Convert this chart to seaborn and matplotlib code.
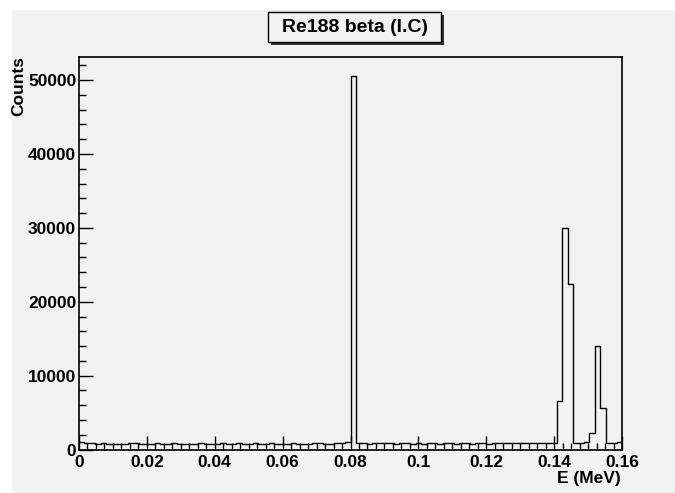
import numpy as np
import pandas as pd
import seaborn as sb
import matplotlib.pyplot as plt
from matplotlib.patches import Rectangle
from matplotlib.ticker import MultipleLocator

# histogram contents, 100 bins from 0 to 0.16 MeV
n_bins = 100
e_min, e_max = 0.0, 0.16
counts = [
    950, 850, 830, 800, 820, 780, 810, 790, 800, 830,
    820, 800, 790, 810, 830, 790, 800, 820, 800, 810,
    790, 800, 820, 780, 810, 800, 830, 800, 790, 820,
    800, 810, 820, 790, 800, 830, 810, 790, 800, 820,
    810, 800, 790, 830, 820, 800, 810, 900, 930, 950,
    50600, 850, 820, 800, 880, 830, 870, 820, 800, 830,
    850, 810, 830, 800, 820, 840, 800, 830, 820, 800,
    850, 830, 810, 840, 820, 800, 830, 850, 830, 820,
    850, 870, 840, 860, 900, 880, 870, 900, 6600, 30000,
    22400, 900, 900, 950, 2250, 14000, 5600, 900, 900, 1050,
]
tick_labels = ["0", "0.02", "0.04", "0.06", "0.08", "0.1", "0.12", "0.14", "0.16"]
title = "Re188 beta (I.C)"
xlabel = "E (MeV)"
ylabel = "Counts"

width = (e_max - e_min) / n_bins
centers = e_min + width * (np.arange(n_bins) + 0.5)
df = pd.DataFrame({"E": centers, "Counts": counts})

bg = "#f2f2f2"
sb.set_style("ticks", {"axes.facecolor": bg, "text.color": "black",
                       "xtick.color": "black", "ytick.color": "black"})
plt.rcParams["font.family"] = ["Liberation Sans", "DejaVu Sans"]
plt.rcParams["font.weight"] = "bold"

fig = plt.figure(figsize=(6.75, 4.93), dpi=100)
fig.patch.set_facecolor("white")
# ROOT style grey canvas, thin white margin top/left
fig.patches.append(Rectangle((12 / 675, -0.1), 1.2, 1.1 - 10 / 493, transform=fig.transFigure,
                             facecolor=bg, edgecolor="none", zorder=-10))
ax = fig.add_axes([79 / 675, 1 - 449.5 / 493, 543 / 675, 392.5 / 493])

sb.histplot(data=df, x="E", weights="Counts", bins=n_bins, binrange=(e_min, e_max),
            element="step", fill=False, color="black", linewidth=1.0, ax=ax)

ax.set_xlim(e_min, e_max)
ax.set_ylim(0, max(counts) * 1.05)
ax.xaxis.set_minor_locator(MultipleLocator(0.0025))
ax.yaxis.set_major_locator(MultipleLocator(10000))
ax.yaxis.set_minor_locator(MultipleLocator(2000))
ax.set_xticks(np.arange(0, 0.161, 0.02))
ax.set_xticklabels(tick_labels)
ax.tick_params(axis="both", which="major", direction="in", length=10, width=1,
               labelsize=12.5, labelcolor="black", color="black")
ax.tick_params(axis="x", which="major", pad=4)
ax.tick_params(axis="y", which="major", pad=2)
ax.tick_params(axis="both", which="minor", direction="in", length=5, width=1, color="black")
for lab in ax.get_xticklabels() + ax.get_yticklabels():
    lab.set_fontweight("bold")
for s in ["top", "bottom", "left", "right"]:
    ax.spines[s].set_visible(True)
    ax.spines[s].set_linewidth(1.2)
    ax.spines[s].set_color("black")

ax.set_xlabel("")
ax.set_ylabel("")
fig.text(621 / 675, 1 - 478 / 493, xlabel, ha="right", va="center", fontsize=12.5,
         fontweight="bold", color="black")
fig.text(19 / 675, 1 - 56 / 493, ylabel, ha="center", va="top", rotation=90,
         fontsize=12.5, fontweight="bold", color="black")

# title box with shadow
fig.patches.append(Rectangle((271 / 675, 1 - 45 / 493), 173 / 675, 30 / 493,
                             transform=fig.transFigure, facecolor="#333333",
                             edgecolor="none", zorder=5))
fig.patches.append(Rectangle((268 / 675, 1 - 42 / 493), 173 / 675, 30 / 493,
                             transform=fig.transFigure, facecolor=bg,
                             edgecolor="black", linewidth=1, zorder=6))
fig.text(354.5 / 675, 1 - 27 / 493, title, ha="center", va="center", fontsize=14,
         fontweight="bold", color="black", zorder=7)

fig.savefig("out.png", dpi=100)
